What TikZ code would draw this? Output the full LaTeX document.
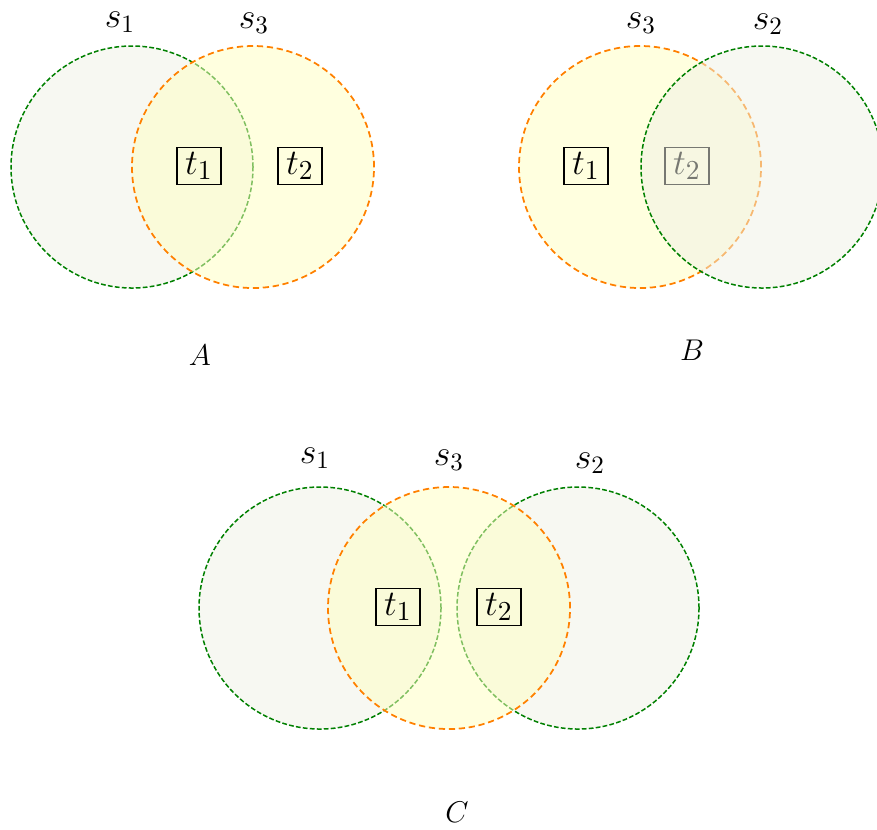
\documentclass[tikz,border=0pt]{standalone}
\begin{document}
\begin{tikzpicture}[x=0.4pt,y=-0.4pt,
  setG/.style={circle, draw={rgb,255:red,0;green,128;blue,0}, line width=0.6pt,
    dash pattern=on 1.9pt off 0.9pt, fill={rgb,255:red,239;green,241;blue,229},
    fill opacity=0.5, minimum size=96.8pt, inner sep=0pt, outer sep=0pt},
  setO/.style={circle, draw={rgb,255:red,255;green,128;blue,0}, line width=0.7pt,
    dash pattern=on 2.5pt off 1.5pt, fill={rgb,255:red,255;green,255;blue,192},
    fill opacity=0.5, minimum size=96.8pt, inner sep=0pt, outer sep=0pt},
  tbox/.style={draw, line width=0.65pt, inner xsep=3.2pt, inner ysep=1.9pt,
    font=\fontsize{15}{18}\selectfont},
  lab/.style={font=\fontsize{14}{17}\selectfont, inner sep=0.5pt},
  biglab/.style={font=\fontsize{12.5}{15}\selectfont, inner sep=0.5pt}]
\useasboundingbox (0,0) rectangle (877,829);
% ---------- A ----------
\node[setG] (A1) at (132,167) {};
\node[setO] (A3) at (253,167) {};
\node[tbox] (At1) at (199,166) {$t_1$};
\node[tbox] (At2) at (300,166) {$t_2$};
\node[lab] (As1) at (120,22) {$s_1$};
\node[lab] (As3) at (254,23) {$s_3$};
\node[biglab] (LA) at (200,355) {$A$};
% ---------- B ----------
\node[setO] (B3) at (640,167) {};
\node[tbox] (Bt1) at (586,166) {$t_1$};
\node[tbox] (Bt2) at (687,166) {$t_2$};
\node[setG] (B2) at (762,167) {};
\node[lab] (Bs3) at (641,23) {$s_3$};
\node[lab] (Bs2) at (768,24) {$s_2$};
\node[biglab] (LB) at (692,350) {$B$};
% ---------- C ----------
\node[setG] (C1) at (320,608) {};
\node[setG] (C2) at (578,608) {};
\node[setO] (C3) at (449,608) {};
\node[tbox] (Ct1) at (398,607) {$t_1$};
\node[tbox] (Ct2) at (499,607) {$t_2$};
\node[lab] (Cs1) at (315,458) {$s_1$};
\node[lab] (Cs3) at (449,460) {$s_3$};
\node[lab] (Cs2) at (590,463) {$s_2$};
\node[biglab] (LC) at (457,812) {$C$};
\end{tikzpicture}
\end{document}
